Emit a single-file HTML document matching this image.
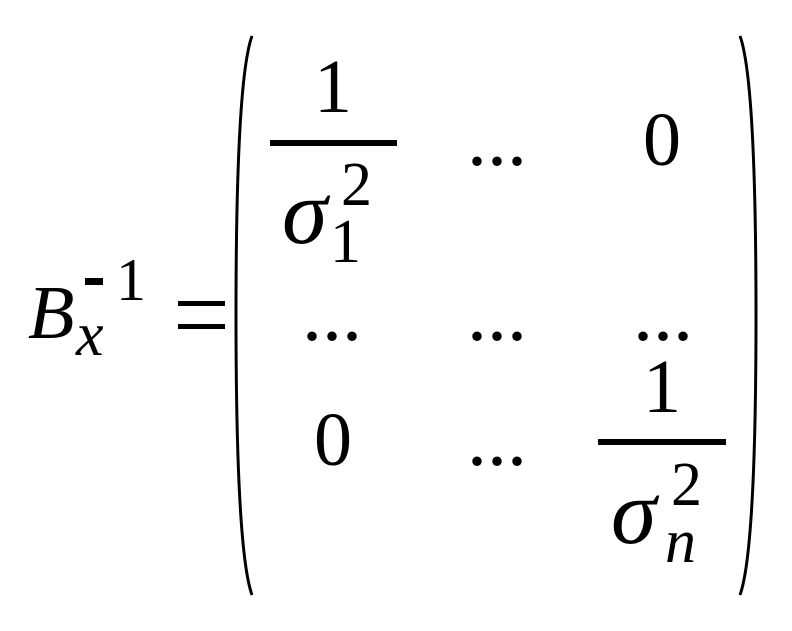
<!DOCTYPE html>
<html><head><meta charset="utf-8"><style>
html,body{margin:0;padding:0;background:#fff;}
svg{display:block;}
text{font-family:"Liberation Serif",serif;fill:#000;}
.i{font-style:italic;}
</style></head><body>
<svg width="792" height="631" viewBox="0 0 792 631" xmlns="http://www.w3.org/2000/svg">
<text x="28" y="338" font-size="76" class="i">B</text>
<text x="76" y="355" font-size="62" class="i">x</text>
<rect x="85" y="278" width="18" height="7"/>
<text x="116" y="300" font-size="60">1</text>
<rect x="178" y="301" width="47" height="5"/>
<rect x="178" y="324" width="47" height="5"/>
<path d="M252,36 Q236,80 236,315 Q236,550 252,595" fill="none" stroke="#000" stroke-width="3"/>
<path d="M740,36 Q756,80 756,315 Q756,550 740,595" fill="none" stroke="#000" stroke-width="3"/>
<text x="333" y="112" font-size="76" text-anchor="middle">1</text>
<rect x="270" y="140" width="127" height="6"/>
<text x="282" y="243" font-size="92" class="i">σ</text>
<text x="341" y="205" font-size="62">2</text>
<text x="330" y="262" font-size="62">1</text>
<text x="497" y="165" font-size="80" text-anchor="middle">...</text>
<text x="662" y="165" font-size="76" text-anchor="middle">0</text>
<text x="332" y="340" font-size="80" text-anchor="middle">...</text>
<text x="497" y="340" font-size="80" text-anchor="middle">...</text>
<text x="663" y="340" font-size="80" text-anchor="middle">...</text>
<text x="333" y="465" font-size="76" text-anchor="middle">0</text>
<text x="497" y="465" font-size="80" text-anchor="middle">...</text>
<text x="662" y="412" font-size="76" text-anchor="middle">1</text>
<rect x="598" y="439" width="128" height="6"/>
<text x="611" y="543" font-size="92" class="i">σ</text>
<text x="671" y="505" font-size="62">2</text>
<text x="665" y="562" font-size="62" class="i">n</text>
</svg>
</body></html>
